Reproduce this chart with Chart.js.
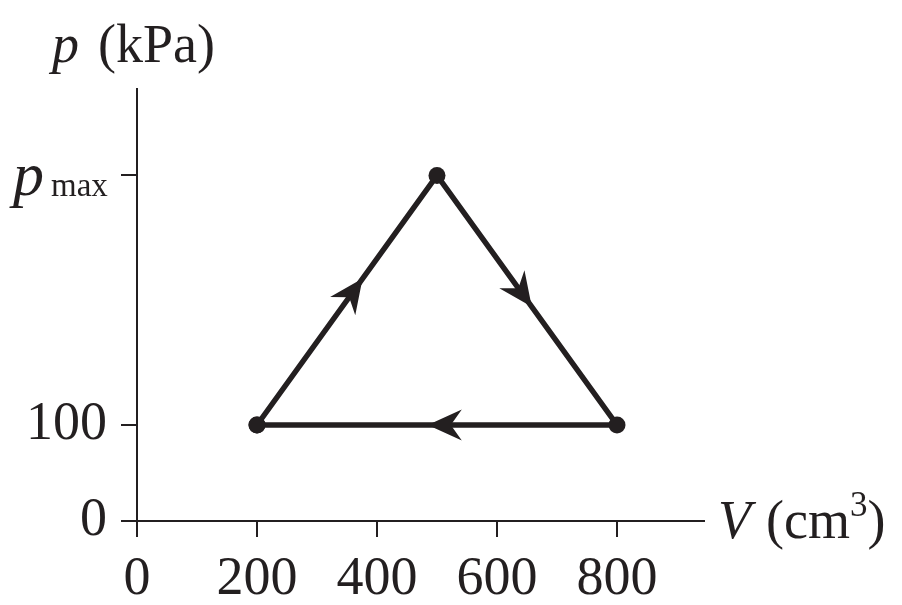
<!DOCTYPE html>
<html>
<head>
<meta charset="utf-8">
<script src="https://cdn.jsdelivr.net/npm/chart.js@4/dist/chart.umd.min.js"></script>
<style>
  html, body { margin: 0; padding: 0; background: #ffffff; }
  #chart { display: block; }
</style>
</head>
<body>
<canvas id="chart" width="902" height="605"></canvas>
<script>
//-------------------
// data
//-------------------
var volumes = [200, 500, 800, 200];      // V (cm3), closed cycle
var pressures = [100, 360, 100, 100];    // p (kPa), 360 stands for p_max
var xTickValues = [0, 200, 400, 600, 800];
var yTickValues = [0, 100, 360];
var yTickLabels = ["0", "100", ""];      // p_max is drawn with a subscript below
var arrowAt = [0.58, 0.52, 0.52];        // where the arrow sits along each leg

var ink = "#231f20";
var serif = "'Liberation Serif', 'Times New Roman', serif";
var tickFont = { family: serif, size: 54 };

var points = volumes.map(function (v, i) { return { x: v, y: pressures[i] }; });

// arrow heads on each leg of the cycle
var arrowPlugin = {
    id: "arrows",
    afterDatasetsDraw: function (chart) {
        var ctx = chart.ctx;
        var xs = chart.scales.x, ys = chart.scales.y;
        ctx.save();
        ctx.fillStyle = ink;
        for (var i = 0; i < points.length - 1; i++) {
            var x0 = xs.getPixelForValue(points[i].x), y0 = ys.getPixelForValue(points[i].y);
            var x1 = xs.getPixelForValue(points[i + 1].x), y1 = ys.getPixelForValue(points[i + 1].y);
            var t = arrowAt[i];
            var tx = x0 + (x1 - x0) * t, ty = y0 + (y1 - y0) * t;
            var ang = Math.atan2(y1 - y0, x1 - x0);
            ctx.save();
            ctx.translate(tx, ty);
            ctx.rotate(ang);
            ctx.beginPath();
            ctx.moveTo(2, 0);
            ctx.lineTo(-32, -15.5);
            ctx.lineTo(-21, 0);
            ctx.lineTo(-32, 15.5);
            ctx.closePath();
            ctx.fill();
            ctx.restore();
        }
        ctx.restore();
    }
};

// axis titles and the p_max label
var labelPlugin = {
    id: "labels",
    afterDraw: function (chart) {
        var ctx = chart.ctx;
        var ys = chart.scales.y;
        ctx.save();
        ctx.fillStyle = ink;
        ctx.textBaseline = "alphabetic";
        ctx.textAlign = "left";

        // p (kPa)
        ctx.font = "italic 54px " + serif;
        ctx.fillText("p", 52, 62);
        ctx.font = "54px " + serif;
        ctx.fillText("(kPa)", 98, 62);

        // p_max tick label
        var py = ys.getPixelForValue(360);
        ctx.font = "italic 62px " + serif;
        ctx.fillText("p", 13, py + 20);
        ctx.font = "33px " + serif;
        ctx.fillText("max", 51, py + 21);

        // V (cm^3)
        var x = 718, base = 538;
        ctx.font = "italic 54px " + serif;
        ctx.fillText("V", x, base);
        x = 766;
        ctx.font = "54px " + serif;
        ctx.fillText("(cm", x, base);
        x += ctx.measureText("(cm").width;
        ctx.font = "35px " + serif;
        ctx.fillText("3", x, base - 22);
        x += ctx.measureText("3").width;
        ctx.font = "54px " + serif;
        ctx.fillText(")", x, base);
        ctx.restore();
    }
};

var ctx = document.getElementById("chart").getContext("2d");
var chart = new Chart(ctx, {
    type: "scatter",
    data: {
        datasets: [{
            data: points,
            showLine: true,
            borderColor: ink,
            borderWidth: 5.5,
            pointRadius: 8.5,
            pointBackgroundColor: ink,
            pointBorderWidth: 0,
            fill: false,
            tension: 0
        }]
    },
    options: {
        responsive: false,
        animation: false,
        events: [],
        layout: { padding: { top: 89, right: 198, left: 0, bottom: 0 } },
        plugins: {
            legend: { display: false },
            tooltip: { enabled: false }
        },
        scales: {
            x: {
                type: "linear",
                min: 0,
                max: 945,
                afterBuildTicks: function (scale) {
                    scale.ticks = xTickValues.map(function (v) { return { value: v }; });
                },
                afterFit: function (scale) { scale.height = 84; },
                grid: { drawOnChartArea: false, drawTicks: true, tickLength: 16, color: ink, lineWidth: 2 },
                border: { display: true, color: ink, width: 2 },
                ticks: { font: tickFont, color: ink, padding: 10, maxRotation: 0, autoSkip: false }
            },
            y: {
                type: "linear",
                min: 0,
                max: 450,
                afterBuildTicks: function (scale) {
                    scale.ticks = yTickValues.map(function (v) { return { value: v }; });
                },
                afterFit: function (scale) { scale.width = 137; },
                grid: { drawOnChartArea: false, drawTicks: true, tickLength: 16, color: ink, lineWidth: 2 },
                border: { display: true, color: ink, width: 2 },
                ticks: {
                    font: tickFont, color: ink, padding: 14, autoSkip: false,
                    callback: function (value, index) { return yTickLabels[index]; }
                }
            }
        }
    },
    plugins: [arrowPlugin, labelPlugin]
});
</script>
</body>
</html>
